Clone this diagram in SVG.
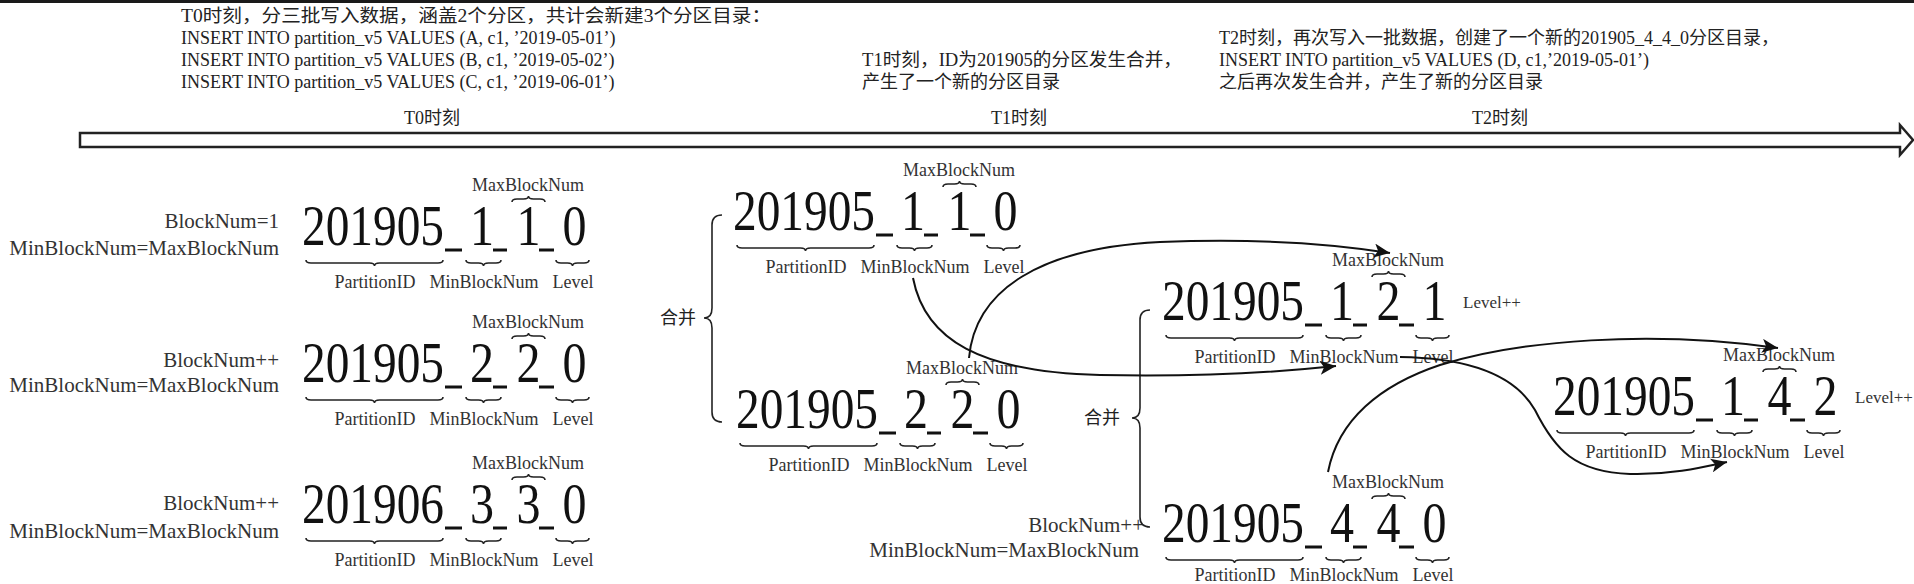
<svg xmlns="http://www.w3.org/2000/svg" xmlns:xlink="http://www.w3.org/1999/xlink" width="1914" height="584" viewBox="0 0 1914 584">
<style>
.t{font-family:"Liberation Serif","Noto Sans CJK SC",serif;font-size:18px;fill:#222}
.tc{text-anchor:middle}
.big{font-family:"Liberation Serif",serif;font-size:56px;fill:#111}
.lbl{font-family:"Liberation Serif",serif;font-size:18px;fill:#333;text-anchor:middle}
.side{font-family:"Liberation Serif",serif;font-size:21px;fill:#333;text-anchor:end}
.lvl{font-family:"Liberation Serif",serif;font-size:17px;fill:#333}
.br{fill:none;stroke:#222;stroke-width:1.6}
.us{stroke:#111;stroke-width:3}
.con{fill:none;stroke:#111;stroke-width:2;marker-end:url(#ah)}
</style>
<defs>
<marker id="ah" markerUnits="userSpaceOnUse" markerWidth="18" markerHeight="14" refX="16" refY="7" orient="auto">
<path d="M0,0 L16,7 L0,14 L4,7 z" fill="#111"/>
</marker>
<g id="tpl">
<line class="us" x1="143" y1="5" x2="160" y2="5"/>
<line class="us" x1="191" y1="5" x2="205" y2="5"/>
<line class="us" x1="237" y1="5" x2="252" y2="5"/>
<path class="br" d="M4 15 Q4 18 9 18 L67.5 18 Q72.5 18 72.5 21 Q72.5 18 77.5 18 L136 18 Q141 18 141 15"/>
<path class="br" d="M164 15 Q164 18 169 18 L176.5 18 Q181.5 18 181.5 21 Q181.5 18 186.5 18 L194 18 Q199 18 199 15"/>
<path class="br" d="M254 15 Q254 18 259 18 L265.5 18 Q270.5 18 270.5 21 Q270.5 18 275.5 18 L282 18 Q287 18 287 15"/>
<path class="br" d="M210 -43 Q210 -46 215 -46 L221.5 -46 Q226.5 -46 226.5 -49 Q226.5 -46 231.5 -46 L238 -46 Q243 -46 243 -43"/>
</g>
</defs>
<rect x="0" y="0" width="1914" height="584" fill="#fff"/>
<rect x="0" y="0" width="1914" height="3" fill="#1a1a1a"/>

<g id="timeline">
<polygon points="80,133 1900,133 1900,125 1913,140 1900,155 1900,147 80,147" fill="#fff" stroke="#222" stroke-width="2.5"/>
<text class="t" x="181" y="22" textLength="590" lengthAdjust="spacingAndGlyphs">T0时刻，分三批写入数据，涵盖2个分区，共计会新建3个分区目录：</text>
<text class="t" x="181" y="44">INSERT INTO partition_v5 VALUES (A, c1, ’2019-05-01’)</text>
<text class="t" x="181" y="66">INSERT INTO partition_v5 VALUES (B, c1, ’2019-05-02’)</text>
<text class="t" x="181" y="88">INSERT INTO partition_v5 VALUES (C, c1, ’2019-06-01’)</text>
<text class="t" x="862" y="66" textLength="320" lengthAdjust="spacingAndGlyphs">T1时刻，ID为201905的分区发生合并，</text>
<text class="t" x="862" y="88">产生了一个新的分区目录</text>
<text class="t" x="1219" y="44">T2时刻，再次写入一批数据，创建了一个新的201905_4_4_0分区目录，</text>
<text class="t" x="1219" y="66">INSERT INTO partition_v5 VALUES (D, c1,’2019-05-01’)</text>
<text class="t" x="1219" y="88">之后再次发生合并，产生了新的分区目录</text>
<text class="t tc" x="432" y="124">T0时刻</text>
<text class="t tc" x="1019" y="124">T1时刻</text>
<text class="t tc" x="1500" y="124">T2时刻</text>
</g>

<g id="nodeA" transform="translate(302,245)">
<use href="#tpl"/>
<text class="big" x="0" y="0" textLength="142" lengthAdjust="spacingAndGlyphs">201905</text>
<text class="big" x="168" y="0" textLength="24" lengthAdjust="spacingAndGlyphs">1</text>
<text class="big" x="214.5" y="0" textLength="24" lengthAdjust="spacingAndGlyphs">1</text>
<text class="big" x="260.5" y="0" textLength="24" lengthAdjust="spacingAndGlyphs">0</text>
<text class="lbl" x="226" y="-54">MaxBlockNum</text>
<text class="lbl" x="73" y="43">PartitionID</text>
<text class="lbl" x="182" y="43">MinBlockNum</text>
<text class="lbl" x="271" y="43">Level</text>
<text class="side" x="-23" y="-17">BlockNum=1</text>
<text class="side" x="-23" y="10">MinBlockNum=MaxBlockNum</text>
</g>

<g id="nodeB" transform="translate(302,382)">
<use href="#tpl"/>
<text class="big" x="0" y="0" textLength="142" lengthAdjust="spacingAndGlyphs">201905</text>
<text class="big" x="168" y="0" textLength="24" lengthAdjust="spacingAndGlyphs">2</text>
<text class="big" x="214.5" y="0" textLength="24" lengthAdjust="spacingAndGlyphs">2</text>
<text class="big" x="260.5" y="0" textLength="24" lengthAdjust="spacingAndGlyphs">0</text>
<text class="lbl" x="226" y="-54">MaxBlockNum</text>
<text class="lbl" x="73" y="43">PartitionID</text>
<text class="lbl" x="182" y="43">MinBlockNum</text>
<text class="lbl" x="271" y="43">Level</text>
<text class="side" x="-23" y="-15">BlockNum++</text>
<text class="side" x="-23" y="10">MinBlockNum=MaxBlockNum</text>
</g>

<g id="nodeC" transform="translate(302,523)">
<use href="#tpl"/>
<text class="big" x="0" y="0" textLength="142" lengthAdjust="spacingAndGlyphs">201906</text>
<text class="big" x="168" y="0" textLength="24" lengthAdjust="spacingAndGlyphs">3</text>
<text class="big" x="214.5" y="0" textLength="24" lengthAdjust="spacingAndGlyphs">3</text>
<text class="big" x="260.5" y="0" textLength="24" lengthAdjust="spacingAndGlyphs">0</text>
<text class="lbl" x="226" y="-54">MaxBlockNum</text>
<text class="lbl" x="73" y="43">PartitionID</text>
<text class="lbl" x="182" y="43">MinBlockNum</text>
<text class="lbl" x="271" y="43">Level</text>
<text class="side" x="-23" y="-13">BlockNum++</text>
<text class="side" x="-23" y="15">MinBlockNum=MaxBlockNum</text>
</g>

<g id="nodeD" transform="translate(733,230)">
<use href="#tpl"/>
<text class="big" x="0" y="0" textLength="142" lengthAdjust="spacingAndGlyphs">201905</text>
<text class="big" x="168" y="0" textLength="24" lengthAdjust="spacingAndGlyphs">1</text>
<text class="big" x="214.5" y="0" textLength="24" lengthAdjust="spacingAndGlyphs">1</text>
<text class="big" x="260.5" y="0" textLength="24" lengthAdjust="spacingAndGlyphs">0</text>
<text class="lbl" x="226" y="-54">MaxBlockNum</text>
<text class="lbl" x="73" y="43">PartitionID</text>
<text class="lbl" x="182" y="43">MinBlockNum</text>
<text class="lbl" x="271" y="43">Level</text>
</g>

<g id="nodeE" transform="translate(736,428)">
<use href="#tpl"/>
<text class="big" x="0" y="0" textLength="142" lengthAdjust="spacingAndGlyphs">201905</text>
<text class="big" x="168" y="0" textLength="24" lengthAdjust="spacingAndGlyphs">2</text>
<text class="big" x="214.5" y="0" textLength="24" lengthAdjust="spacingAndGlyphs">2</text>
<text class="big" x="260.5" y="0" textLength="24" lengthAdjust="spacingAndGlyphs">0</text>
<text class="lbl" x="226" y="-54">MaxBlockNum</text>
<text class="lbl" x="73" y="43">PartitionID</text>
<text class="lbl" x="182" y="43">MinBlockNum</text>
<text class="lbl" x="271" y="43">Level</text>
</g>

<g id="nodeF" transform="translate(1162,320)">
<use href="#tpl"/>
<text class="big" x="0" y="0" textLength="142" lengthAdjust="spacingAndGlyphs">201905</text>
<text class="big" x="168" y="0" textLength="24" lengthAdjust="spacingAndGlyphs">1</text>
<text class="big" x="214.5" y="0" textLength="24" lengthAdjust="spacingAndGlyphs">2</text>
<text class="big" x="260.5" y="0" textLength="24" lengthAdjust="spacingAndGlyphs">1</text>
<text class="lbl" x="226" y="-54">MaxBlockNum</text>
<text class="lbl" x="73" y="43">PartitionID</text>
<text class="lbl" x="182" y="43">MinBlockNum</text>
<text class="lbl" x="271" y="43">Level</text>
<text class="lvl" x="301" y="-12">Level++</text>
</g>

<g id="nodeG" transform="translate(1162,542)">
<use href="#tpl"/>
<text class="big" x="0" y="0" textLength="142" lengthAdjust="spacingAndGlyphs">201905</text>
<text class="big" x="168" y="0" textLength="24" lengthAdjust="spacingAndGlyphs">4</text>
<text class="big" x="214.5" y="0" textLength="24" lengthAdjust="spacingAndGlyphs">4</text>
<text class="big" x="260.5" y="0" textLength="24" lengthAdjust="spacingAndGlyphs">0</text>
<text class="lbl" x="226" y="-54">MaxBlockNum</text>
<text class="lbl" x="73" y="39">PartitionID</text>
<text class="lbl" x="182" y="39">MinBlockNum</text>
<text class="lbl" x="271" y="39">Level</text>
<text class="side" x="-18" y="-10">BlockNum++</text>
<text class="side" x="-23" y="15">MinBlockNum=MaxBlockNum</text>
</g>

<g id="nodeH" transform="translate(1553,415)">
<use href="#tpl"/>
<text class="big" x="0" y="0" textLength="142" lengthAdjust="spacingAndGlyphs">201905</text>
<text class="big" x="168" y="0" textLength="24" lengthAdjust="spacingAndGlyphs">1</text>
<text class="big" x="214.5" y="0" textLength="24" lengthAdjust="spacingAndGlyphs">4</text>
<text class="big" x="260.5" y="0" textLength="24" lengthAdjust="spacingAndGlyphs">2</text>
<text class="lbl" x="226" y="-54">MaxBlockNum</text>
<text class="lbl" x="73" y="43">PartitionID</text>
<text class="lbl" x="182" y="43">MinBlockNum</text>
<text class="lbl" x="271" y="43">Level</text>
<text class="lvl" x="302" y="-12">Level++</text>
</g>

<g id="merge1">
<path class="br" d="M722 215 Q712 215 712 225 L712 308 Q712 318 704 318 Q712 318 712 328 L712 412 Q712 422 722 422"/>
<text class="t tc" x="678" y="324">合并</text>
</g>
<g id="merge2">
<path class="br" d="M1150 310 Q1140 310 1140 320 L1140 408 Q1140 418 1132 418 Q1140 418 1140 428 L1140 517 Q1140 527 1150 527"/>
<text class="t tc" x="1102" y="424">合并</text>
</g>

<g id="connectors">
<path class="con" d="M913 278 C925 340 980 372 1100 375 C1200 377 1280 372 1336 366"/>
<path class="con" d="M969 358 C975 290 1040 248 1160 242 C1260 238 1340 245 1390 253"/>
<path class="con" d="M1400 357 C1470 358 1515 375 1535 410 C1555 450 1575 472 1630 474 C1670 475 1700 468 1727 462"/>
<path class="con" d="M1328 472 C1338 420 1380 385 1440 365 C1520 340 1650 330 1778 348"/>
</g>
</svg>
